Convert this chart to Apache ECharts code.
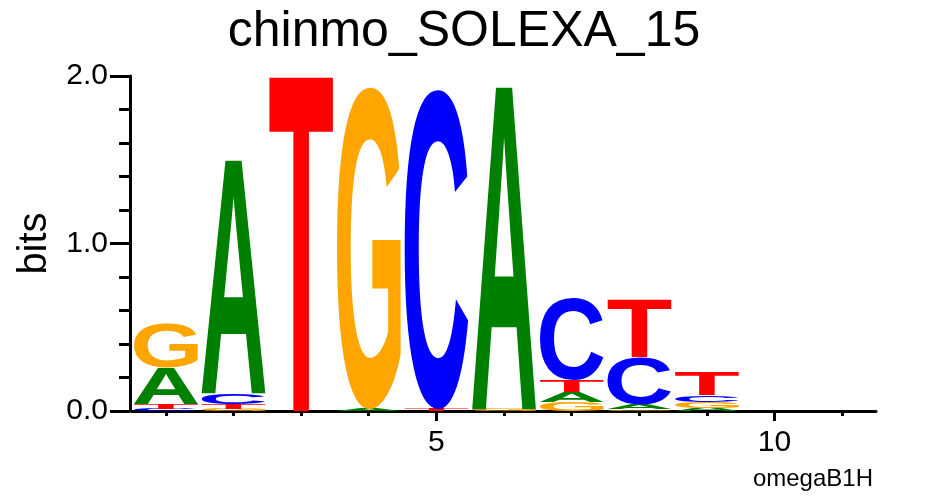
<!DOCTYPE html>
<html>
<head>
<meta charset="utf-8">
<script src="https://cdn.jsdelivr.net/npm/echarts@6/dist/echarts.min.js"></script>
<style>html,body{margin:0;padding:0;background:#fff}#c{width:925px;height:496px}</style>
</head>
<body>
<div id="c"></div>
<script>
// ---- data (information content in bits per letter, per position) ----
const positions = ['1','2','3','4','5','6','7','8','9','10','11'];
const bitsA = [0.215, 1.387, 0,    0.012, 0,     1.918, 0.058, 0.030, 0.020, 0, 0];
const bitsC = [0.013, 0.065, 0,    0,     1.903, 0,     0.488, 0.280, 0.040, 0, 0];
const bitsG = [0.268, 0.012, 0,    1.918, 0,     0.012, 0.055, 0.010, 0.035, 0, 0];
const bitsT = [0.030, 0.030, 1.990, 0,    0.012, 0,     0.070, 0.340, 0.133, 0, 0];
const yMajorTicks = [0, 1, 2];
const xLabelled = ['5', '10'];

const letterColors = {A: '#008000', C: '#0000FF', G: '#FFA500', T: '#FF0000'};
const glyphFont = 'bold 400px "Liberation Sans"';

// measure ink bounds of each glyph (relative to left / middle-baseline anchor) by pixel scan
const metrics = {};
(function () {
  const W = 800, H = 800, ax = 200, ay = 400;
  const cv = document.createElement('canvas');
  cv.width = W; cv.height = H;
  const ctx = cv.getContext('2d');
  ['A','C','G','T'].forEach(L => {
    ctx.clearRect(0, 0, W, H);
    ctx.font = glyphFont;
    ctx.textBaseline = 'middle';
    ctx.textAlign = 'left';
    ctx.fillStyle = '#000';
    ctx.fillText(L, ax, ay);
    const d = ctx.getImageData(0, 0, W, H).data;
    let minX = W, maxX = -1, minY = H, maxY = -1;
    for (let y = 0; y < H; y++) {
      for (let x = 0; x < W; x++) {
        if (d[(y * W + x) * 4 + 3] > 127) {
          if (x < minX) minX = x; if (x > maxX) maxX = x;
          if (y < minY) minY = y; if (y > maxY) maxY = y;
        }
      }
    }
    metrics[L] = {l: minX - ax, r: maxX + 1 - ax, t: minY - ay, b: maxY + 1 - ay};
  });
})();

function renderItem(params, api) {
  const i = api.value(0);
  const letters = [['A', bitsA[i]], ['C', bitsC[i]], ['G', bitsG[i]], ['T', bitsT[i]]]
    .filter(d => d[1] > 0)
    .sort((a, b) => a[1] - b[1]);
  const bw = api.size([1, 0])[0] * 0.94;
  const cx = api.coord([i, 0])[0];
  let base = 0;
  const children = letters.map(([L, h]) => {
    const pBot = api.coord([i, base]);
    const pTop = api.coord([i, base + h]);
    base += h;
    const m = metrics[L];
    const ht = pBot[1] - pTop[1];
    const sx = bw / (m.r - m.l);
    const sy = ht / (m.b - m.t);
    return {
      type: 'text',
      x: cx - bw / 2 - m.l * sx,
      y: pTop[1] - m.t * sy,
      scaleX: sx,
      scaleY: sy,
      style: {
        text: L, font: glyphFont, fill: letterColors[L],
        x: 0, y: 0, align: 'left', verticalAlign: 'middle'
      }
    };
  });
  return {type: 'group', children};
}

const chart = echarts.init(document.getElementById('c'), null, {renderer: 'canvas'});
const fam = '"Liberation Sans", Arial, sans-serif';
const isLabelled = (idx) => xLabelled.indexOf(positions[idx]) >= 0;

chart.setOption({
  animation: false,
  backgroundColor: '#fff',
  title: {
    text: 'chinmo_SOLEXA_15',
    left: 459, top: 2, textAlign: 'center',
    textStyle: {fontFamily: fam, fontSize: 50, fontWeight: 'normal', color: '#000'}
  },
  grid: {left: 132, right: 49, top: 76, bottom: 85, containLabel: false, outerBoundsMode: 'none'},
  xAxis: [
    {
      type: 'category', data: positions, position: 'bottom',
      axisLine: {show: true, lineStyle: {color: '#000', width: 3}},
      axisTick: {show: true, alignWithLabel: true, interval: 0, length: 5, lineStyle: {color: '#000', width: 3}},
      axisLabel: {show: false},
      splitLine: {show: false}
    },
    {
      type: 'category', data: positions, position: 'bottom',
      axisLine: {show: false},
      axisTick: {show: true, alignWithLabel: true, interval: (idx) => isLabelled(idx), length: 10, lineStyle: {color: '#000', width: 3}},
      axisLabel: {show: true, interval: (idx) => isLabelled(idx), margin: 17, fontFamily: fam, fontSize: 30, color: '#000'},
      splitLine: {show: false}
    }
  ],
  yAxis: [
    {
      type: 'value', min: 0, max: 2, interval: 0.2, offset: 2, position: 'left',
      axisLine: {show: true, lineStyle: {color: '#000', width: 3}},
      axisTick: {show: true, length: 11, lineStyle: {color: '#000', width: 3}},
      axisLabel: {show: false},
      splitLine: {show: false}
    },
    {
      type: 'value', min: 0, max: 2, interval: 1, offset: 2, position: 'left',
      name: 'bits', nameLocation: 'middle', nameRotate: 90, nameGap: 74,
      nameTextStyle: {fontFamily: fam, fontSize: 40, color: '#000'},
      axisLine: {show: false},
      axisTick: {show: true, length: 20, lineStyle: {color: '#000', width: 3}},
      axisLabel: {
        show: true, margin: 22, fontFamily: fam, fontSize: 30, color: '#000',
        formatter: (v) => yMajorTicks.indexOf(Math.round(v)) >= 0 ? Number(v).toFixed(1) : ''
      },
      splitLine: {show: false}
    }
  ],
  graphic: [{
    type: 'text', right: 52, top: 467,
    style: {text: 'omegaB1H', font: '24px "Liberation Sans", Arial, sans-serif', fill: '#000'}
  }],
  series: [{
    type: 'custom',
    xAxisIndex: 0, yAxisIndex: 0,
    renderItem: renderItem,
    encode: {x: 0, y: 1},
    data: positions.map((p, i) => [i, 0])
  }]
});
</script>
</body>
</html>
